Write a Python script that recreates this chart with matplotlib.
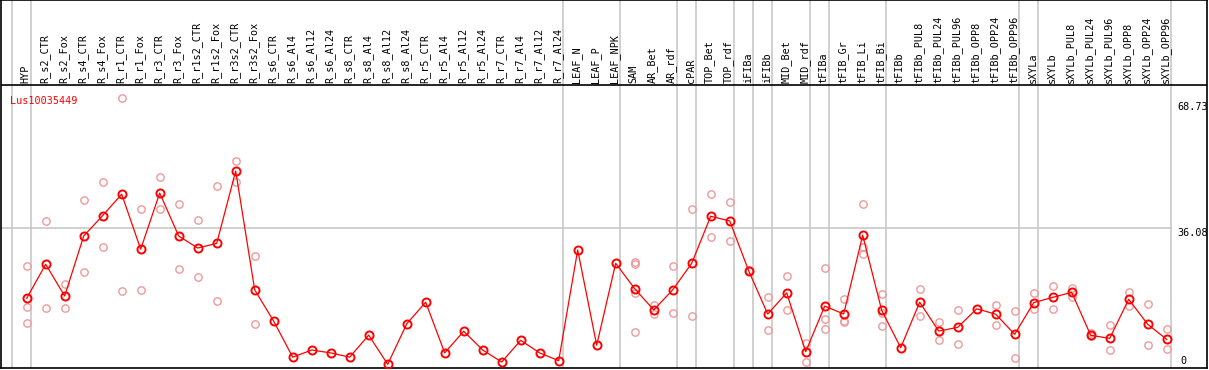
import numpy as np
import matplotlib.pyplot as plt

W_PX, H_PX = 1209, 370
DPI = 100

COLOR_MAIN = "#FF0000"
COLOR_REP = "#EE9A9A"
COLOR_GRID = "#C4C4C4"
FONT = "DejaVu Sans Mono"

GENE = "Lus10035449"

samples = [
    "HYP", "R_s2_CTR", "R_s2_Fox", "R_s4_CTR", "R_s4_Fox", "R_r1_CTR", "R_r1_Fox",
    "R_r3_CTR", "R_r3_Fox", "R_r1s2_CTR", "R_r1s2_Fox", "R_r3s2_CTR", "R_r3s2_Fox",
    "R_s6_CTR", "R_s6_Al4", "R_s6_Al12", "R_s6_Al24", "R_s8_CTR", "R_s8_Al4",
    "R_s8_Al12", "R_s8_Al24", "R_r5_CTR", "R_r5_Al4", "R_r5_Al12", "R_r5_Al24",
    "R_r7_CTR", "R_r7_Al4", "R_r7_Al12", "R_r7_Al24", "LEAF_N", "LEAF_P", "LEAF_NPK",
    "SAM", "AR_Bet", "AR_rdf", "cPAR", "TOP_Bet", "TOP_rdf", "iFIBa", "iFIBb",
    "MID_Bet", "MID_rdf", "tFIBa", "tFIB_Gr", "tFIB_Li", "tFIB_Bi", "tFIBb",
    "tFIBb_PUL8", "tFIBb_PUL24", "tFIBb_PUL96", "tFIBb_OPP8", "tFIBb_OPP24",
    "tFIBb_OPP96", "sXYLa", "sXYLb", "sXYLb_PUL8", "sXYLb_PUL24", "sXYLb_PUL96",
    "sXYLb_OPP8", "sXYLb_OPP24", "sXYLb_OPP96",
]

# mean expression per sample
means = [
    18.0, 26.8, 18.6, 34.1, 39.4, 44.9, 30.7, 45.2, 34.1, 31.0, 32.2, 50.9, 20.2,
    12.1, 2.8, 4.65, 3.9, 2.8, 8.5, 0.95, 11.4, 17.0, 3.9, 9.5, 4.65, 1.55, 7.15,
    3.9, 1.9, 30.5, 5.9, 27.05,
    20.5, 15.0, 20.2, 27.05, 39.2, 38.0, 25.1, 13.95, 19.4, 4.2, 16.0, 13.95,
    34.3, 14.9, 5.25, 17.0, 9.55, 10.5, 15.3, 13.9, 8.7, 16.9, 18.25, 19.55,
    8.45, 7.65, 17.75, 11.3, 7.4,
]

# individual replicates per sample (empty where none shown)
replicates = [
    [26.4, 15.8, 11.5], [38.0, 15.4], [21.7, 15.4], [43.4, 24.7], [48.0, 31.2],
    [69.7, 19.8], [41.1, 20.1], [49.4, 41.1], [42.4, 25.6], [38.2, 23.5],
    [47.0, 17.3], [53.5, 48.0], [28.9, 11.4],
    [], [], [], [], [], [], [], [], [], [], [], [], [], [], [], [], [], [], [],
    [27.3, 26.9, 19.4, 9.2], [16.4, 13.9], [26.4, 14.1], [41.1, 13.35],
    [45.0, 33.8], [42.9, 32.8], [25.2, 25.0], [18.35, 9.8], [23.8, 14.9],
    [6.55, 1.45], [25.8, 12.6, 10.0], [17.75, 12.2, 11.8], [42.4, 31.35, 29.4],
    [19.1, 14.3, 10.85], [], [20.3, 13.35], [11.8, 7.15], [14.9, 6.1], [],
    [16.4, 11.1], [14.7, 2.5], [19.4, 15.15], [21.1, 15.15], [20.7, 18.4],
    [8.95, 8.2], [11.1, 4.65], [19.55, 16.1], [16.5, 5.85], [10.0, 4.8],
]

# first sample index of each tissue group (vertical separators)
group_starts = [0, 1, 29, 32, 35, 36, 38, 39, 40, 42, 43, 46, 53, 54, 61]

y_max = 68.73
y_mid = 36.08

# pixel geometry of the original image
x0_px, step_px = 26.7, 19.0
y0_px, px_per_unit = 368.0, 266.0 / y_max
header_px = 85.0

fig = plt.figure(figsize=(W_PX / DPI, H_PX / DPI), dpi=DPI)
ax = fig.add_axes([1 / W_PX, 2 / H_PX, 1206 / W_PX, 368 / H_PX])
ax.set_xlim((1 - x0_px) / step_px, (1207 - x0_px) / step_px)
ax.set_ylim(0, y0_px / px_per_unit)
ax.set_xticks([])
ax.set_yticks([])
for sp in ax.spines.values():
    sp.set_linewidth(1.2)
    sp.set_color("black")

header_y = (y0_px - header_px) / px_per_unit
right_x = (1170.5 - x0_px) / step_px

# grid lines
for g in group_starts:
    ax.axvline(g - 15 / step_px, color=COLOR_GRID, lw=1.1, zorder=1)
ax.plot([ax.get_xlim()[0], right_x], [y_mid, y_mid], color=COLOR_GRID, lw=1.1, zorder=1)
ax.axhline(header_y, color="black", lw=1.2, zorder=2)

x = np.arange(len(samples))

# replicates
for i, reps in enumerate(replicates):
    if reps:
        ax.plot([i] * len(reps), reps, linestyle="none", marker="o", ms=5.3,
                mfc="none", mec=COLOR_REP, mew=1.0, zorder=3, clip_on=False)

# means
ax.plot(x, means, color=COLOR_MAIN, lw=0.9, zorder=4)
ax.plot(x, means, linestyle="none", marker="o", ms=5.8, mfc="none",
        mec=COLOR_MAIN, mew=1.4, zorder=5)

# sample labels in the header
for i, name in enumerate(samples):
    ax.text(i - 0.05, header_y + 0.5, name, rotation=90, ha="center", va="bottom",
            fontsize=7.3, family=FONT, color="black")

ax.text((10 - x0_px) / step_px, y_max + 0.3, GENE, ha="left", va="center",
        fontsize=7.3, family=FONT, color=COLOR_MAIN)

ax.text((1177 - x0_px) / step_px, y_max, f"{y_max:.2f}", ha="left", va="top",
        fontsize=7.3, family=FONT)
ax.text((1177 - x0_px) / step_px, y_mid, f"{y_mid:.2f}", ha="left", va="top",
        fontsize=7.3, family=FONT)
ax.text((1180 - x0_px) / step_px, 0.4, "0", ha="left", va="bottom",
        fontsize=7.3, family=FONT)

fig.savefig("out.png", dpi=DPI)
